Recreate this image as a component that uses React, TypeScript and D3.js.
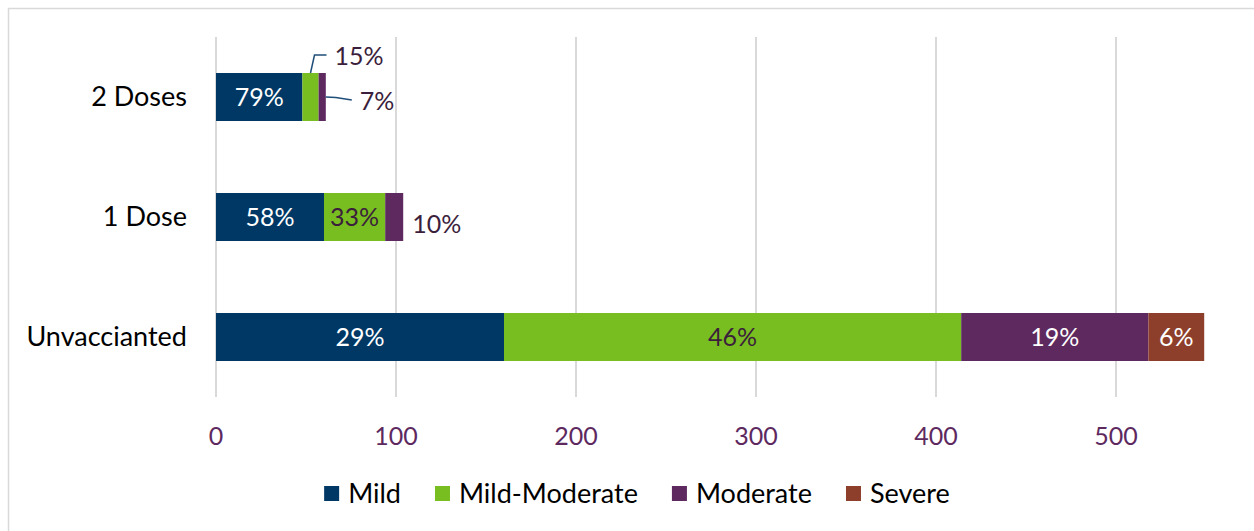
import { useEffect, useRef } from "react"
import * as d3 from "d3"

const categories = ["2 Doses", "1 Dose", "Unvaccianted"]
const seriesNames = ["Mild", "Mild-Moderate", "Moderate", "Severe"]
const mild = [48, 60, 160]
const mildModerate = [9, 34, 254]
const moderate = [4, 10, 104]
const severe = [0, 0, 31]
const xTicks = [0, 100, 200, 300, 400, 500]

const colors = ["#003865", "#78BE20", "#5D295F", "#8D3F2B"]
const insideText = ["#ffffff", "#3b1e3b", "#ffffff", "#ffffff"]
const FONT = "Lato, 'Open Sans', sans-serif"

export default function App() {
  const svgRef = useRef<SVGSVGElement>(null)

  useEffect(() => {
    if (!svgRef.current) return
    const svg = d3.select(svgRef.current)
    svg.selectAll("*").remove()

    // chart frame
    svg
      .append("rect")
      .attr("x", 8.5)
      .attr("y", 8.5)
      .attr("width", 1400)
      .attr("height", 700)
      .attr("fill", "#fff")
      .attr("stroke", "#d9d9d9")
      .attr("stroke-width", 1.5)

    const top = 37
    const bottom = 397
    const x = d3.scaleLinear().domain([0, 500]).range([216, 1116])
    const y = d3
      .scaleBand<string>()
      .domain(categories)
      .range([top, bottom])
      .paddingInner(0.6)
      .paddingOuter(0.3)

    // gridlines
    svg
      .append("g")
      .selectAll("line")
      .data(xTicks)
      .join("line")
      .attr("x1", (d) => x(d))
      .attr("x2", (d) => x(d))
      .attr("y1", top)
      .attr("y2", bottom)
      .attr("stroke", "#d9d9d9")
      .attr("stroke-width", 2)

    // tick labels
    svg
      .append("g")
      .selectAll("text")
      .data(xTicks)
      .join("text")
      .attr("x", (d) => x(d))
      .attr("y", 436)
      .attr("dy", "0.35em")
      .attr("text-anchor", "middle")
      .style("font-family", FONT)
      .style("font-size", "25px")
      .style("fill", "#5D295F")
      .text((d) => d)

    // category labels
    svg
      .append("g")
      .selectAll("text")
      .data(categories)
      .join("text")
      .attr("x", 187)
      .attr("y", (d) => (y(d) as number) + y.bandwidth() / 2)
      .attr("dy", "0.35em")
      .attr("text-anchor", "end")
      .style("font-family", FONT)
      .style("font-size", "27px")
      .style("fill", "#000")
      .text((d) => d)

    const table = categories.map((c, i) => {
      const vals = [mild[i], mildModerate[i], moderate[i], severe[i]]
      const total = d3.sum(vals)
      let acc = 0
      return vals.map((v, k) => {
        const seg = { cat: c, k, x0: acc, x1: acc + v, pct: Math.round((v / total) * 100) }
        acc += v
        return seg
      })
    })
    const segs = table.flat().filter((s) => s.x1 > s.x0)

    const g = svg.append("g")
    g.selectAll("rect")
      .data(segs)
      .join("rect")
      .attr("x", (d) => x(d.x0))
      .attr("y", (d) => y(d.cat) as number)
      .attr("width", (d) => x(d.x1) - x(d.x0))
      .attr("height", y.bandwidth())
      .attr("fill", (d) => colors[d.k])

    const labelStyle = (sel: any) =>
      sel.style("font-family", FONT).style("font-size", "25px").attr("dy", "0.35em")

    // inside labels
    const inside = segs.filter((d) => x(d.x1) - x(d.x0) > 40)
    g.selectAll("text.in")
      .data(inside)
      .join("text")
      .attr("class", "in")
      .attr("x", (d) => (x(d.x0) + x(d.x1)) / 2)
      .attr("y", (d) => (y(d.cat) as number) + y.bandwidth() / 2)
      .attr("text-anchor", "middle")
      .style("fill", (d) => insideText[d.k])
      .call(labelStyle)
      .text((d) => `${d.pct}%`)

    // outside labels
    const outside = segs.filter((d) => x(d.x1) - x(d.x0) <= 40)
    outside.forEach((d) => {
      const y0 = y(d.cat) as number
      const cy = y0 + y.bandwidth() / 2
      const cx = (x(d.x0) + x(d.x1)) / 2
      let tx = x(d.x1) + 9
      let ty = cy + 7
      if (d.cat === "2 Doses" && d.k === 1) {
        const pts: [number, number][] = [
          [cx, y0],
          [cx + 4, y0 - 18],
          [cx + 16, y0 - 18],
        ]
        g.append("path")
          .attr("d", d3.line()(pts))
          .attr("fill", "none")
          .attr("stroke", "#1f4e79")
          .attr("stroke-width", 1.5)
        tx = cx + 24
        ty = y0 - 17
      } else if (d.cat === "2 Doses" && d.k === 2) {
        const ex = x(d.x1)
        const pts: [number, number][] = [
          [ex, cy],
          [ex + 10, cy + 0.5],
          [ex + 26, cy + 3],
        ]
        g.append("path")
          .attr("d", d3.line()(pts))
          .attr("fill", "none")
          .attr("stroke", "#1f4e79")
          .attr("stroke-width", 1.5)
        tx = ex + 34
        ty = cy + 4
      }
      g.append("text")
        .attr("x", tx)
        .attr("y", ty)
        .attr("text-anchor", "start")
        .style("fill", "#3b1e3b")
        .call(labelStyle)
        .text(`${d.pct}%`)
    })

    // legend
    const legend = svg.append("g")
    const items = legend
      .selectAll("g")
      .data(seriesNames)
      .join("g")
    items
      .append("rect")
      .attr("width", 15)
      .attr("height", 15)
      .attr("y", -8)
      .attr("fill", (_, i) => colors[i])
    items
      .append("text")
      .attr("x", 24)
      .attr("dy", "0.35em")
      .style("font-family", FONT)
      .style("font-size", "27px")
      .style("fill", "#000")
      .text((d) => d)
    let cursor = 0
    const offsets: number[] = []
    items.each(function () {
      const t = d3.select(this).select("text").node() as SVGTextElement
      offsets.push(cursor)
      cursor += 24 + t.getComputedTextLength() + 34
    })
    const totalW = cursor - 34
    const startX = 637 - totalW / 2
    items.attr("transform", (_, i) => `translate(${startX + offsets[i]},494)`)
  }, [])

  return (
    <svg
      ref={svgRef}
      width={1254}
      height={531}
      style={{ position: "absolute", left: 0, top: 0, background: "#fff" }}
    ></svg>
  )
}
